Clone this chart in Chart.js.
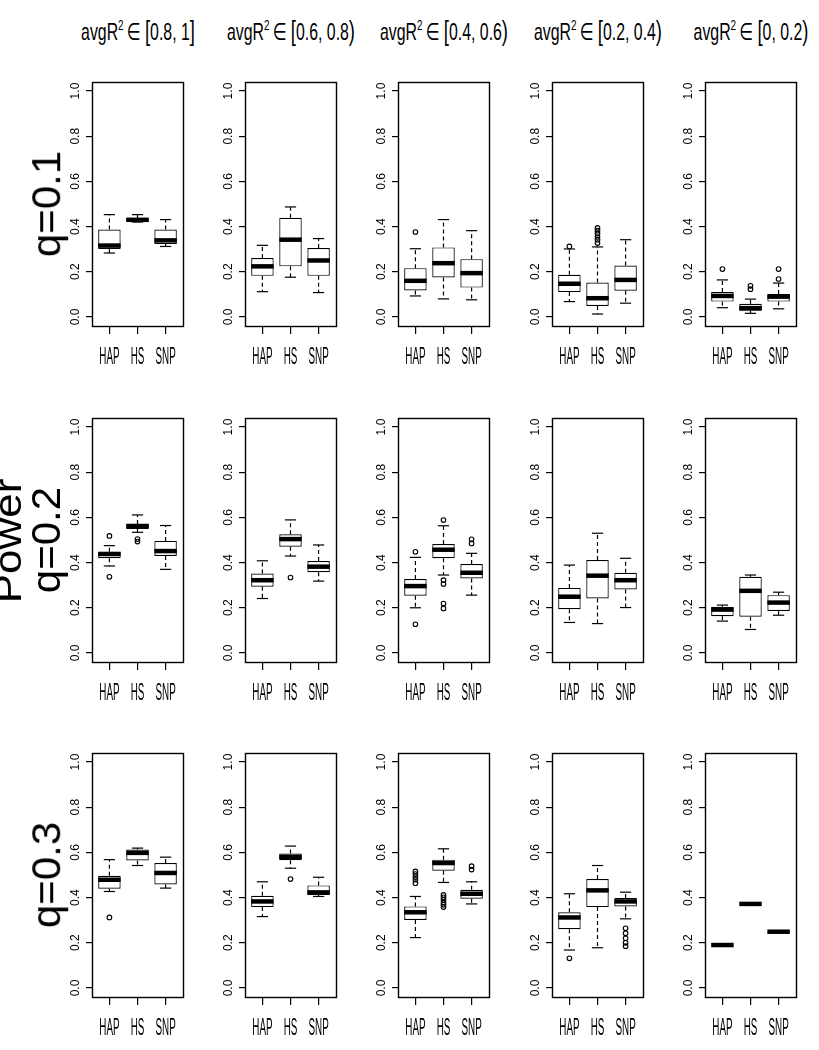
<!DOCTYPE html>
<html lang="en">
<head>
  <meta charset="UTF-8">
  <title>Power boxplots</title>
  <script src="https://cdn.jsdelivr.net/npm/chart.js"></script>
  <style>
    body { margin: 0; background: #fff; font-family: 'Liberation Sans', Arial, 'DejaVu Sans', sans-serif; color: #000; }
    #page { position: relative; width: 819px; height: 1050px; overflow: hidden; }
    canvas { position: absolute; }
    /* zero-size anchors, the inner span is moved onto the anchor point */
    .anchor { position: absolute; width: 0; height: 0; }
    .anchor span.txt { position: absolute; left: 0; top: 0; transform-origin: 0 0; white-space: nowrap; line-height: 1; }
    .br { font-size: 28px; line-height: 0; }
    .sup { font-size: 15px; position: relative; top: -10px; line-height: 0; }
  </style>
</head>
<body>
<div id="page"></div>
<script>
  // ---- data ----
  const groups = ['HAP', 'HS', 'SNP'];
  const binTitles = ['[0.8, 1]', '[0.6, 0.8)', '[0.4, 0.6)', '[0.2, 0.4)', '[0, 0.2)'];
  const rowTitles = ['q=0.1', 'q=0.2', 'q=0.3'];
  const yTicks = [0, 0.2, 0.4, 0.6, 0.8, 1.0];

  // one entry per panel, row by row (q=0.1 first), values for HAP, HS, SNP
  const lowWhisker = [
    [0.283, 0.420, 0.312], [0.112, 0.176, 0.108], [0.093, 0.080, 0.076], [0.068, 0.013, 0.061], [0.041, 0.016, 0.036],
    [0.385, 0.534, 0.370], [0.241, 0.429, 0.318], [0.200, 0.345, 0.256], [0.135, 0.130, 0.201], [0.141, 0.104, 0.167],
    [0.427, 0.542, 0.442], [0.316, 0.530, 0.405], [0.223, 0.467, 0.372], [0.168, 0.178, 0.306], [0.190, 0.372, 0.249]
  ];
  const lowerQuartile = [
    [0.301, 0.422, 0.323], [0.182, 0.224, 0.182], [0.117, 0.175, 0.130], [0.110, 0.049, 0.116], [0.068, 0.027, 0.068],
    [0.419, 0.549, 0.429], [0.293, 0.470, 0.357], [0.253, 0.419, 0.330], [0.194, 0.241, 0.281], [0.163, 0.160, 0.186],
    [0.439, 0.564, 0.458], [0.358, 0.565, 0.412], [0.301, 0.519, 0.395], [0.260, 0.358, 0.361], [0.190, 0.372, 0.249]
  ];
  const medians = [
    [0.316, 0.430, 0.339], [0.224, 0.342, 0.250], [0.160, 0.238, 0.194], [0.147, 0.083, 0.164], [0.093, 0.039, 0.090],
    [0.438, 0.562, 0.451], [0.322, 0.504, 0.382], [0.296, 0.457, 0.355], [0.249, 0.342, 0.322], [0.192, 0.275, 0.223],
    [0.479, 0.598, 0.509], [0.383, 0.580, 0.423], [0.335, 0.553, 0.417], [0.312, 0.432, 0.383], [0.190, 0.372, 0.249]
  ];
  const upperQuartile = [
    [0.387, 0.437, 0.387], [0.261, 0.439, 0.305], [0.216, 0.308, 0.256], [0.187, 0.152, 0.228], [0.110, 0.058, 0.102],
    [0.448, 0.571, 0.496], [0.352, 0.525, 0.407], [0.327, 0.482, 0.394], [0.288, 0.411, 0.355], [0.204, 0.337, 0.256],
    [0.497, 0.613, 0.553], [0.408, 0.595, 0.454], [0.361, 0.568, 0.435], [0.335, 0.482, 0.398], [0.190, 0.372, 0.249]
  ];
  const highWhisker = [
    [0.453, 0.453, 0.431], [0.317, 0.487, 0.347], [0.302, 0.431, 0.382], [0.301, 0.310, 0.342], [0.164, 0.079, 0.150],
    [0.475, 0.611, 0.564], [0.408, 0.589, 0.478], [0.423, 0.563, 0.441], [0.389, 0.530, 0.419], [0.212, 0.345, 0.269],
    [0.568, 0.619, 0.579], [0.470, 0.628, 0.490], [0.405, 0.616, 0.470], [0.417, 0.542, 0.424], [0.190, 0.372, 0.249]
  ];
  const outliers = [
    [[], [], []], [[], [], []], [[0.376], [], []],
    [[0.312], [0.394, 0.382, 0.369, 0.354, 0.342, 0.327], []], [[0.212], [0.138, 0.123], [0.212, 0.168]],
    [[0.518, 0.337], [0.504, 0.493], []], [[], [0.334], []],
    [[0.448, 0.127], [0.588, 0.322, 0.305, 0.219, 0.197], [0.503, 0.485]], [[], [], []], [[], [], []],
    [[0.312], [], []], [[], [0.482], []],
    [[0.516, 0.504, 0.491, 0.479, 0.464], [0.412, 0.401, 0.390, 0.378, 0.368, 0.358], [0.539, 0.524]],
    [[0.131], [], [0.264, 0.242, 0.220, 0.200, 0.185]], [[], [], []]
  ];

  // ---- layout ----
  const colLeft = [92, 245, 398, 552, 705];   // left edge of each plot box
  const rowTop = [82, 418, 753];              // top edge of each plot box
  const boxW = 91, boxH = 244;
  const axisW = 40, padTop = 10, padRight = 8, axisH = 45;

  const page = document.getElementById('page');

  // whiskers, staples, medians, frame and the squeezed group names
  const boxParts = {
    id: 'boxParts',
    afterDatasetsDraw(chart) {
      const p = chart.options.panel;
      const { ctx, scales: { x, y } } = chart;
      const bars = chart.getDatasetMeta(0).data;
      const seg = (x1, y1, x2, y2) => { ctx.beginPath(); ctx.moveTo(x1, y1); ctx.lineTo(x2, y2); ctx.stroke(); };
      ctx.save();
      ctx.strokeStyle = '#000';
      groups.forEach((g, i) => {
        const cx = x.getPixelForValue(i + 1);
        const half = bars[i].width / 2;
        const yLo = y.getPixelForValue(lowWhisker[p][i]);
        const yHi = y.getPixelForValue(highWhisker[p][i]);
        const yQ1 = y.getPixelForValue(lowerQuartile[p][i]);
        const yQ3 = y.getPixelForValue(upperQuartile[p][i]);
        const yMed = y.getPixelForValue(medians[p][i]);
        ctx.lineWidth = 1.2;
        ctx.setLineDash([4, 3]);
        if (yHi < yQ3) seg(cx, yQ3, cx, yHi);
        if (yLo > yQ1) seg(cx, yQ1, cx, yLo);
        ctx.setLineDash([]);
        seg(cx - half / 2, yHi, cx + half / 2, yHi);
        seg(cx - half / 2, yLo, cx + half / 2, yLo);
        ctx.lineWidth = 4.5;
        seg(cx - half, yMed, cx + half, yMed);
      });
      ctx.restore();
    },
    afterDraw(chart) {
      const { ctx, chartArea: a, scales: { x } } = chart;
      ctx.save();
      ctx.strokeStyle = '#000';
      ctx.lineWidth = 1.4;
      ctx.strokeRect(a.left + 0.5, a.top + 0.5, a.right - a.left, a.bottom - a.top);
      ctx.fillStyle = '#000';
      ctx.font = '24px "Liberation Sans", Arial, sans-serif';
      ctx.textAlign = 'center';
      ctx.textBaseline = 'alphabetic';
      x.ticks.forEach((t, i) => {
        ctx.save();
        ctx.translate(x.getPixelForValue(t.value), a.bottom + 38);
        ctx.scale(0.41, 1);
        ctx.fillText(groups[i], 0, 0);
        ctx.restore();
      });
      ctx.restore();
    }
  };

  rowTitles.forEach((rt, r) => {
    binTitles.forEach((bt, c) => {
      const p = r * binTitles.length + c;
      const cv = document.createElement('canvas');
      cv.width = axisW + boxW + padRight;
      cv.height = padTop + boxH + axisH;
      cv.style.left = (colLeft[c] - axisW) + 'px';
      cv.style.top = (rowTop[r] - padTop) + 'px';
      page.appendChild(cv);

      const boxes = groups.map((g, i) => ({ x: i + 1, y: [lowerQuartile[p][i], upperQuartile[p][i]] }));
      const points = [];
      groups.forEach((g, i) => outliers[p][i].forEach(v => points.push({ x: i + 1, y: v })));

      new Chart(cv, {
        type: 'bar',
        data: {
          datasets: [
            {
              type: 'bar', data: boxes,
              backgroundColor: '#fff', borderColor: '#000', borderWidth: 1.2, borderSkipped: false,
              barPercentage: 0.8, categoryPercentage: 1
            },
            {
              type: 'scatter', data: points,
              pointStyle: 'circle', pointRadius: 2.3, borderWidth: 1.1,
              borderColor: '#000', backgroundColor: 'rgba(0,0,0,0)'
            }
          ]
        },
        options: {
          panel: p,
          responsive: false,
          animation: false,
          events: [],
          layout: { padding: { top: padTop, right: padRight, left: 0, bottom: 0 } },
          plugins: { legend: { display: false }, tooltip: { enabled: false }, title: { display: false } },
          scales: {
            x: {
              type: 'linear', min: 0.38, max: 3.62, offset: false,
              afterBuildTicks: s => { s.ticks = groups.map((g, i) => ({ value: i + 1 })); },
              afterFit: s => { s.height = axisH; },
              grid: { drawOnChartArea: false, drawTicks: true, tickLength: 8, color: '#000', lineWidth: 1.2, offset: false },
              border: { display: false },
              ticks: { display: false }
            },
            y: {
              type: 'linear', min: -0.04, max: 1.04,
              afterBuildTicks: s => { s.ticks = yTicks.map(v => ({ value: v })); },
              afterFit: s => { s.width = axisW; },
              grid: { drawOnChartArea: false, drawTicks: true, tickLength: 6, color: '#000', lineWidth: 1.2 },
              border: { display: false },
              ticks: {
                minRotation: 90, maxRotation: 90, crossAlign: 'center', padding: 2,
                color: '#000', font: { family: 'Liberation Sans', size: 12 },
                callback: v => v.toFixed(1)
              }
            }
          }
        },
        plugins: [boxParts]
      });
    });
  });

  // ---- texts around the grid ----
  function addLabel(cx, cy, html, size, transform) {
    const a = document.createElement('div');
    a.className = 'anchor';
    a.style.left = cx + 'px';
    a.style.top = cy + 'px';
    const s = document.createElement('span');
    s.className = 'txt';
    s.style.fontSize = size + 'px';
    s.style.transform = transform;
    s.innerHTML = html;
    a.appendChild(s);
    page.appendChild(a);
  }

  binTitles.forEach((bt, c) => {
    const inner = bt.slice(1, -1);
    const html = 'avgR<span class="sup">2</span>\u2009\u2208 <span class="br">' + bt[0] + '</span>' +
      inner + '<span class="br">' + bt[bt.length - 1] + '</span>';
    addLabel(colLeft[c] + boxW / 2, 20, html, 24, 'scaleX(0.66) translate(-50%, 0)');
  });

  rowTitles.forEach((rt, r) => {
    addLabel(47, rowTop[r] + boxH / 2, rt, 42, 'scaleX(0.95) rotate(-90deg) translate(-50%, -50%)');
  });
  addLabel(7, 541, 'Power', 44, 'scaleX(0.9) rotate(-90deg) translate(-50%, -50%)');
</script>
</body>
</html>
